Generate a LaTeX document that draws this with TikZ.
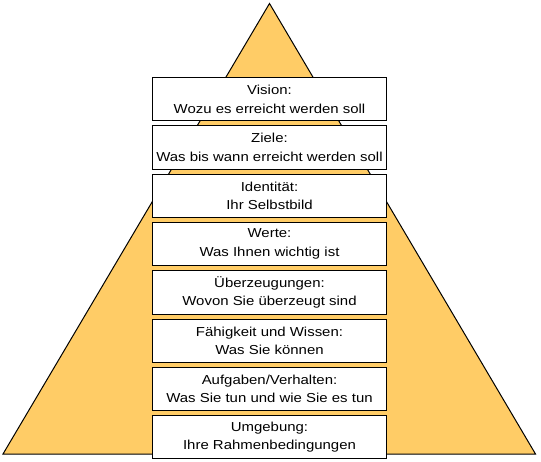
\documentclass[tikz,border=0pt]{standalone}
\usepackage{fontspec}
\setmainfont[FakeStretch=1.15]{Liberation Sans}
\definecolor{pyr}{HTML}{FFCC66}
\begin{document}
\begin{tikzpicture}[x=1pt,y=-1pt,
  lvbox/.style={draw=black,line width=1pt,fill=white,minimum width=234.4pt,minimum height=43.3pt,inner sep=0pt,align=center,
    font=\fontsize{13}{18.5}\selectfont}]
\useasboundingbox (0,0) rectangle (541,462);
\coordinate (apex) at (269.5,3.5);
\coordinate (bl) at (3,454);
\coordinate (br) at (535.5,454);
\draw[fill=pyr,line width=1pt] (apex) -- (br) -- (bl) -- cycle;
\node[lvbox] (n1) at (269.5,99.2) {Vision:\\Wozu es erreicht werden soll};
\node[lvbox] (n2) at (269.5,147.5) {Ziele:\\Was bis wann erreicht werden soll};
\node[lvbox] (n3) at (269.5,195.8) {Identität:\\Ihr Selbstbild};
\node[lvbox] (n4) at (269.5,244.1) {Werte:\\Was Ihnen wichtig ist};
\node[lvbox] (n5) at (269.5,292.4) {Überzeugungen:\\Wovon Sie überzeugt sind};
\node[lvbox] (n6) at (269.5,340.7) {Fähigkeit und Wissen:\\Was Sie können};
\node[lvbox] (n7) at (269.5,389.0) {Aufgaben/Verhalten:\\Was Sie tun und wie Sie es tun};
\node[lvbox] (n8) at (269.5,437.3) {Umgebung:\\Ihre Rahmenbedingungen};
\end{tikzpicture}
\end{document}
